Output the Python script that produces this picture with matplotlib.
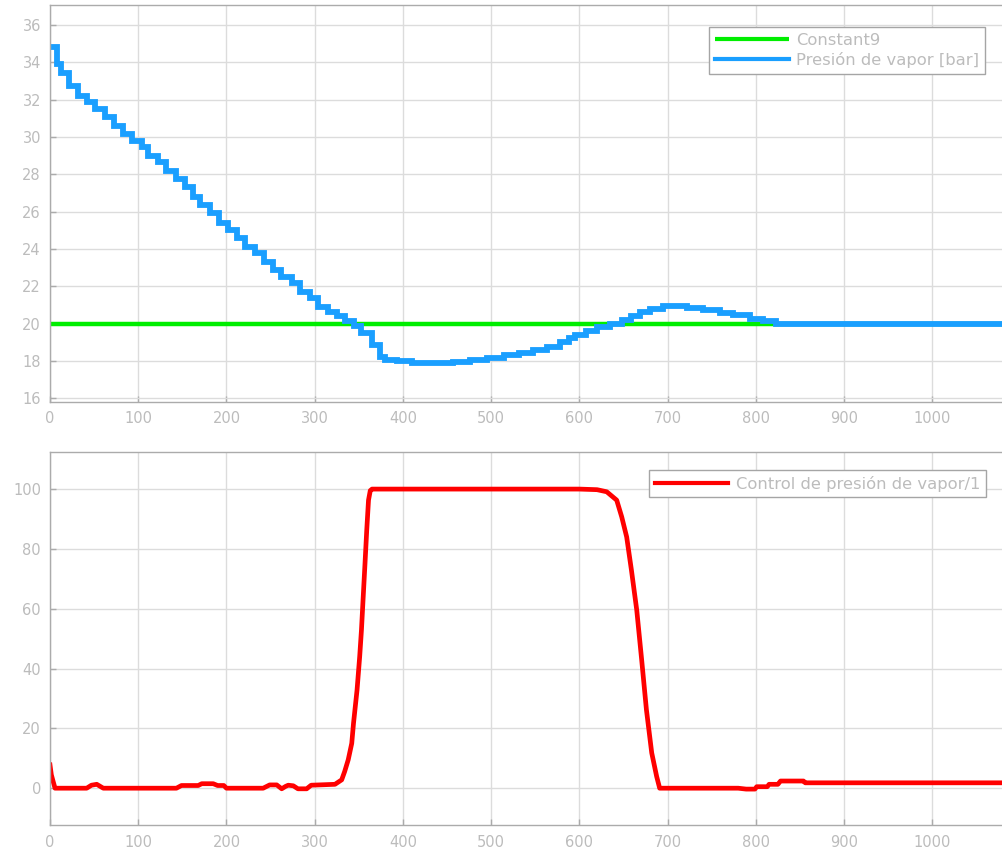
import matplotlib
matplotlib.use("Agg")
import matplotlib.pyplot as plt
from matplotlib.ticker import MultipleLocator

plt.rcParams["font.family"] = ["DejaVu Sans"]

# Setpoint (Constant9)
setpoint_t = [0, 1080]
setpoint_v = [20, 20]

# Steam pressure, sample-and-hold output [bar]
pressure_t = [0, 7.5, 13, 21, 32, 41.5, 51, 62, 72, 83, 92.5, 104, 111, 122.5,
              132, 143, 152.7, 162, 170, 181, 191, 202, 212, 221, 232, 242,
              253, 262, 274, 283, 295, 304, 315, 325, 334, 344, 353, 365, 374,
              380, 393, 410, 457, 476, 495, 514, 532, 548, 563, 578, 588, 595,
              607, 620, 635, 648, 659, 669, 680, 695, 722, 740, 759, 774, 793,
              808, 823, 1080]
pressure_v = [34.84, 33.9, 33.43, 32.75, 32.2, 31.86, 31.5, 31.05, 30.6, 30.16,
              29.8, 29.45, 29.0, 28.64, 28.2, 27.75, 27.3, 26.8, 26.36, 25.9,
              25.4, 25.0, 24.57, 24.1, 23.77, 23.3, 22.9, 22.5, 22.16, 21.7,
              21.36, 20.9, 20.6, 20.4, 20.14, 19.9, 19.5, 18.84, 18.2, 18.07,
              17.98, 17.9, 17.96, 18.07, 18.18, 18.32, 18.45, 18.57, 18.75,
              19.02, 19.23, 19.41, 19.59, 19.8, 20.0, 20.21, 20.41, 20.63, 20.8,
              20.93, 20.84, 20.71, 20.59, 20.45, 20.27, 20.13, 20.0, 20.0]

# Pressure controller output [%]
control_t = [0, 1.5, 3.8, 5.7, 41.6, 47, 53, 60.4, 143.3, 149, 168, 172, 185,
             190, 197, 200, 241.6, 249, 257, 262.6, 267, 270, 275.8, 281, 290.9,
             296, 323, 330.6, 334, 338, 342, 344, 348, 351, 353, 355, 357, 359,
             361, 363, 365, 600, 620, 631, 642.3, 648, 653.6, 659, 665, 670.6,
             676, 682, 687.6, 691, 780, 789, 799, 801, 813, 815, 825, 828, 854,
             856, 1080]
control_v = [7.8, 4.5, 2.0, 0.0, 0.0, 1.0, 1.3, 0.0, 0.0, 0.9, 0.9, 1.5, 1.5,
             0.9, 0.9, 0.0, 0.0, 1.1, 1.1, -0.2, 0.6, 1.0, 0.8, -0.2, -0.2,
             1.0, 1.3, 2.8, 5.6, 9.5, 15.0, 21.7, 32.8, 44.0, 52.9, 64.0, 75.0,
             86.3, 96.3, 99.5, 100.0, 100.0, 99.8, 99.1, 96.3, 90.7, 84.0, 72.9,
             59.6, 42.9, 26.2, 11.8, 3.9, 0.0, 0.0, -0.3, -0.3, 0.5, 0.5, 1.3,
             1.3, 2.4, 2.4, 1.8, 1.8]

x_ticks_step = 100
top_ylim = (15.82, 37.07)
bottom_ylim = (-12.3, 112.3)
x_lim = (0, 1079)

spine_c = "#ababab"
text_c = "#bcbcbc"
grid_c = "#dcdcdc"

fig = plt.figure(figsize=(10.02, 8.55), dpi=100)
ax1 = fig.add_axes([0.0499, 0.5302, 0.9501, 0.4640])
ax2 = fig.add_axes([0.0499, 0.0351, 0.9501, 0.4359])


def style(ax, ystep):
    ax.set_xlim(*x_lim)
    ax.xaxis.set_major_locator(MultipleLocator(x_ticks_step))
    ax.yaxis.set_major_locator(MultipleLocator(ystep))
    ax.grid(True, color=grid_c, linewidth=1.0)
    ax.set_axisbelow(True)
    for side in ("left", "bottom", "top"):
        ax.spines[side].set_color(spine_c)
        ax.spines[side].set_linewidth(1.0)
    ax.spines["right"].set_visible(False)
    ax.tick_params(axis="both", direction="in", length=4.5, width=1.0,
                   color=spine_c, labelcolor=text_c, labelsize=10.5)
    ax.tick_params(axis="x", pad=7)
    ax.tick_params(axis="y", pad=6.5)


style(ax1, 2)
ax1.set_ylim(*top_ylim)
ax1.plot(setpoint_t, setpoint_v, color="#00ee00", linewidth=3.2,
         label="Constant9", solid_capstyle="butt")
ax1.step(pressure_t, pressure_v, where="post", color="#1a9fff", linewidth=4.2,
         label="Presión de vapor [bar]", solid_joinstyle="miter")

style(ax2, 20)
ax2.set_ylim(*bottom_ylim)
ax2.plot(control_t, control_v, color="#ff0000", linewidth=3.4,
         label="Control de presión de vapor/1")


def add_legend(ax, anchor):
    leg = ax.legend(loc="upper right", bbox_to_anchor=anchor, borderaxespad=0,
                    fancybox=False, framealpha=1.0, edgecolor="#a5a5a5",
                    fontsize=11.8, handlelength=4.5, handletextpad=0.45,
                    labelspacing=0.25, borderpad=0.35, labelcolor=text_c)
    leg.get_frame().set_linewidth(1.0)
    for line in leg.get_lines():
        line.set_linewidth(3.0)
    return leg


add_legend(ax1, (0.982, 0.9446))
add_legend(ax2, (0.983, 0.9525))

fig.savefig("out.png", dpi=100)
